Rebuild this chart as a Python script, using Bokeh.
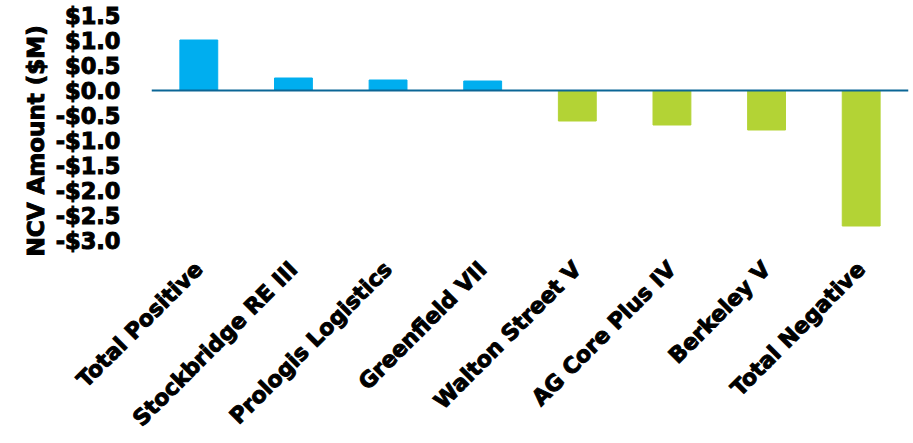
import math
from bokeh.plotting import figure
from bokeh.models import FactorRange, Range1d, Span, FixedTicker, Title
from bokeh.embed import file_html
from bokeh.resources import INLINE

funds = ["Total Positive", "Stockbridge RE III", "Prologis Logistics", "Greenfield VII",
         "Walton Street V", "AG Core Plus IV", "Berkeley V", "Total Negative"]
ncv = [1.01, 0.25, 0.21, 0.19, -0.61, -0.69, -0.79, -2.71]
y_ticks = [-3.0, -2.5, -2.0, -1.5, -1.0, -0.5, 0.0, 0.5, 1.0, 1.5]
y_tick_labels = ["-$3.0", "-$2.5", "-$2.0", "-$1.5", "-$1.0", "-$0.5", "$0.0", "$0.5", "$1.0", "$1.5"]
y_title = "NCV Amount ($M)"

POS = "#00AEEF"
NEG = "#B3D335"
colors = [POS if v >= 0 else NEG for v in ncv]

FONT = "DejaVu Sans"

p = figure(x_range=FactorRange(*funds, range_padding=0), y_range=Range1d(-3.1, 1.6),
           width=913, height=443, output_backend="svg", toolbar_location=None,
           min_border_left=151, min_border_right=5, min_border_top=10, min_border_bottom=198)
p.vbar(x=funds, top=ncv, width=0.4, color=colors)
p.add_layout(Span(location=0, dimension="width", line_color="#0B6696", line_width=2))

p.outline_line_color = None
p.xgrid.grid_line_color = None
p.ygrid.grid_line_color = None
p.background_fill_color = "white"

p.yaxis.ticker = FixedTicker(ticks=y_ticks)
p.yaxis.major_label_overrides = dict(zip(y_ticks, y_tick_labels))
p.yaxis.axis_line_color = None
p.yaxis.major_tick_line_color = None
p.yaxis.minor_tick_line_color = None
p.yaxis.major_tick_out = 0
p.yaxis.major_label_standoff = 31
p.yaxis.major_label_text_font = FONT
p.yaxis.major_label_text_font_style = "bold"
p.yaxis.major_label_text_font_size = "22.5px"
p.yaxis.major_label_text_color = "black"
p.yaxis.major_label_text_outline_color = "black"

title = Title(text=y_title, align="left", offset=-11, text_font=FONT,
              text_font_style="bold", text_font_size="23px", text_color="black",
              text_outline_color="black", standoff=8)
p.add_layout(title, "left")

p.xaxis.axis_line_color = None
p.xaxis.major_tick_line_color = None
p.xaxis.minor_tick_line_color = None
p.xaxis.major_tick_out = 0
p.xaxis.major_label_orientation = math.pi / 4
p.xaxis.major_label_standoff = 20
p.xaxis.major_label_text_font = FONT
p.xaxis.major_label_text_font_style = "bold"
p.xaxis.major_label_text_font_size = "22px"
p.xaxis.major_label_text_color = "black"
p.xaxis.major_label_text_outline_color = "black"

open("out.html", "w").write(file_html(p, INLINE))
